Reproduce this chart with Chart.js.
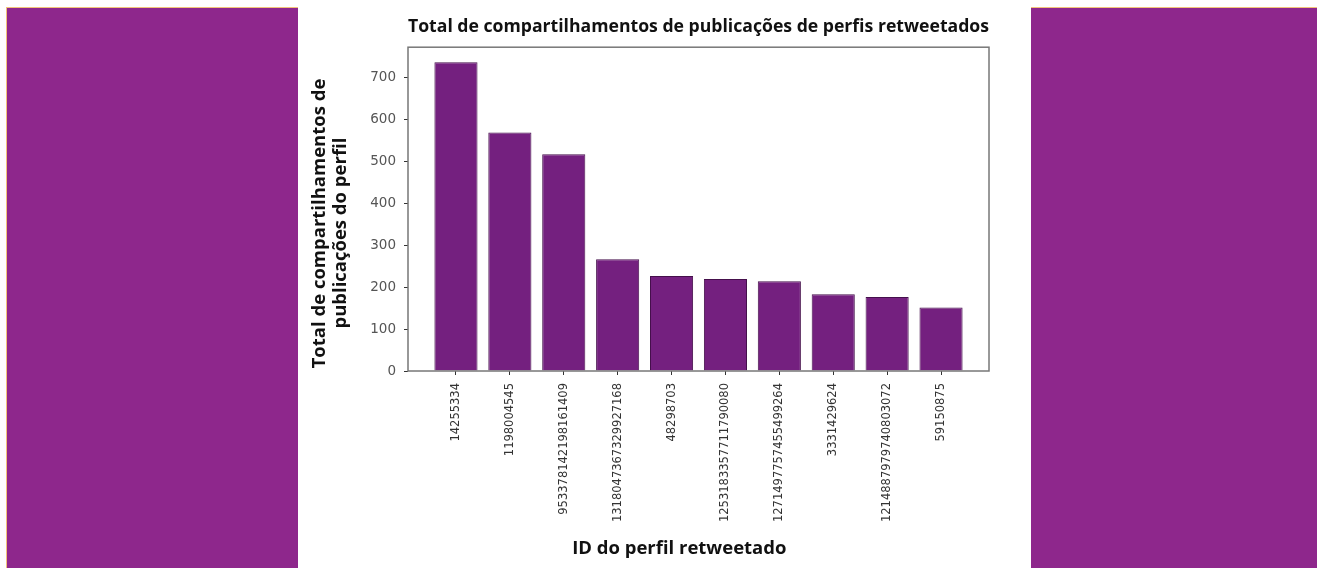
<!doctype html>
<html lang="pt">
  <head>
    <meta charset="utf-8">
    <title>Total de compartilhamentos de publicações de perfis retweetados</title>
    <style>
      * {
        margin: 0;
        padding: 0;
      }
      body {
        width: 1317px;
        height: 568px;
        background: #fff;
        position: relative;
        overflow: hidden;
      }
      .panel {
        position: absolute;
        top: 7px;
        height: 561px;
        background: #8e278c;
        border-top: 1px solid #f2c27a;
      }
      .panel.left {
        left: 6px;
        width: 291px;
        border-left: 1px solid #f2c27a;
      }
      .panel.right {
        left: 1031px;
        width: 286px;
      }
      .chartBox {
        position: absolute;
        left: 298px;
        top: 0;
        width: 733px;
        height: 568px;
      }
    </style>
  </head>
  <body>
    <div class="panel left"></div>
    <div class="panel right"></div>
    <div class="chartBox">
      <canvas id="myChart"></canvas>
    </div>
    <script src="https://cdn.jsdelivr.net/npm/chart.js/dist/chart.umd.min.js"></script>
    <script>
    // data
    const profileIds = ['14255334', '1198004545', '953378142198161409', '1318047367329927168', '48298703',
      '1253183357711790080', '1271497757455499264', '3331429624', '1214887979740803072', '59150875'];
    const shares = [735, 568, 516, 266, 226, 219, 214, 183, 176, 151];
    const yTicks = [0, 100, 200, 300, 400, 500, 600, 700];

    const titleFont = { family: "'Open Sans', sans-serif", size: 18.5, weight: 'bold' };

    // box round the plot, like matplotlib's spines
    const frame = {
      id: 'frame',
      afterDatasetsDraw(chart) {
        const { ctx, chartArea: a } = chart;
        ctx.save();
        ctx.strokeStyle = '#777';
        ctx.lineWidth = 1.5;
        ctx.strokeRect(a.left, a.top, a.right - a.left, a.bottom - a.top);
        ctx.restore();
      }
    };

    const data = {
      datasets: [{
        label: 'Total',
        data: profileIds.map((id, i) => ({ x: i, y: shares[i] })),
        backgroundColor: '#74207f',
        borderColor: '#45104c',
        borderWidth: 1,
        barPercentage: 0.8,
        categoryPercentage: 1
      }]
    };

    const config = {
      type: 'bar',
      data,
      plugins: [frame],
      options: {
        responsive: true,
        maintainAspectRatio: false,
        animation: false,
        layout: { padding: { top: 16, right: 42, bottom: 8, left: 0 } },
        plugins: {
          legend: { display: false },
          tooltip: { enabled: false },
          title: {
            display: true,
            fullSize: false,
            text: 'Total de compartilhamentos de publicações de perfis retweetados',
            color: '#111',
            font: titleFont,
            padding: { top: 0, bottom: 9 }
          }
        },
        scales: {
          x: {
            type: 'linear',
            min: -0.89,
            max: 9.89,
            offset: false,
            afterBuildTicks: (scale) => {
              scale.ticks = profileIds.map((id, i) => ({ value: i }));
            },
            afterFit: (scale) => { scale.height = 189; },
            border: { display: false },
            grid: { offset: false, drawOnChartArea: false, drawTicks: true, tickLength: 4, color: '#333' },
            ticks: {
              autoSkip: false,
              maxRotation: 90,
              minRotation: 90,
              padding: 8,
              color: '#333',
              font: { family: "'DejaVu Sans', sans-serif", size: 11.5 },
              callback: (v, i) => profileIds[i]
            },
            title: {
              display: true,
              // trailing spaces nudge the centred label left, as in the original
              text: 'ID do perfil retweetado        ',
              color: '#111',
              font: titleFont,
              padding: { top: 4, bottom: 0 }
            }
          },
          y: {
            min: 0,
            max: 771,
            afterBuildTicks: (scale) => {
              scale.ticks = yTicks.map(v => ({ value: v }));
            },
            afterFit: (scale) => { scale.width = 110; },
            border: { display: false },
            grid: { drawOnChartArea: false, drawTicks: true, tickLength: 4, color: '#333' },
            ticks: {
              padding: 8,
              color: '#555',
              font: { family: "'DejaVu Sans', sans-serif", size: 13.5 }
            },
            title: {
              display: true,
              text: ['Total de compartilhamentos de      ', 'publicações do perfil          '],
              color: '#111',
              font: { ...titleFont, lineHeight: 1.15 },
              padding: { top: 11, bottom: 0 }
            }
          }
        }
      }
    };

    const ctx = document.getElementById('myChart');
    const myChart = new Chart(ctx, config);
    </script>
  </body>
</html>
